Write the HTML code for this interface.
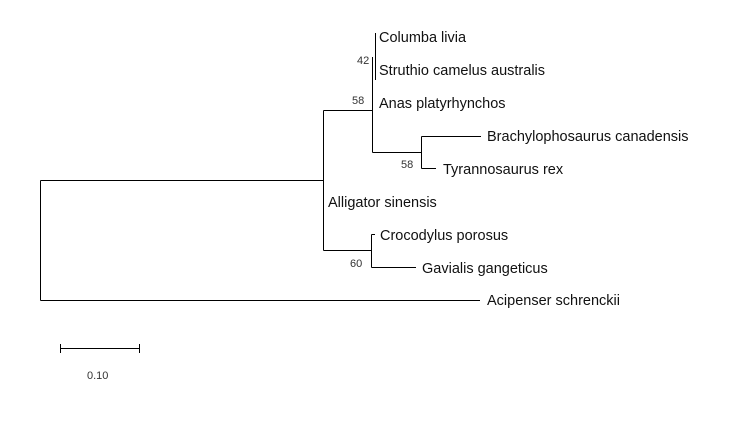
<!DOCTYPE html>
<html><head><meta charset="utf-8"><style>
html,body{margin:0;padding:0;background:#fff;}
svg{display:block}
.t{font-family:"Liberation Sans","DejaVu Sans",sans-serif;font-size:14.5px;fill:#111}
.n{font-family:"Liberation Sans","DejaVu Sans",sans-serif;font-size:11px;fill:#333}
</style></head><body>
<svg width="736" height="432" viewBox="0 0 736 432" xmlns="http://www.w3.org/2000/svg">
<g stroke="#000" stroke-width="1" fill="none" shape-rendering="crispEdges">
<path d="M40.5 180.5V300.5"/>
<path d="M40.5 180.5H323.5"/>
<path d="M40.5 300.5H480"/>
<path d="M323.5 110.5V250.5"/>
<path d="M323.5 110.5H372.5"/>
<path d="M323.5 250.5H371.5"/>
<path d="M372.5 57V152.5"/>
<path d="M375.5 33V80"/>
<path d="M372.5 152.5H421.5"/>
<path d="M421.5 136.5V168.5"/>
<path d="M421.5 136.5H481"/>
<path d="M421.5 168.5H436"/>
<path d="M371.5 234.5V267.5"/>
<path d="M371.5 234.5H375"/>
<path d="M371.5 267.5H416"/>
<path d="M60.5 348.5H139.5"/>
<path d="M60.5 344V353"/>
<path d="M139.5 344V353"/>
</g>
<text class="t" x="379" y="42">Columba livia</text>
<text class="t" x="379" y="75">Struthio camelus australis</text>
<text class="t" x="379" y="108">Anas platyrhynchos</text>
<text class="t" x="487" y="141">Brachylophosaurus canadensis</text>
<text class="t" x="443" y="174">Tyrannosaurus rex</text>
<text class="t" x="328" y="207">Alligator sinensis</text>
<text class="t" x="380" y="240">Crocodylus porosus</text>
<text class="t" x="422" y="273">Gavialis gangeticus</text>
<text class="t" x="487" y="305">Acipenser schrenckii</text>
<text class="n" x="357" y="64">42</text>
<text class="n" x="352" y="104">58</text>
<text class="n" x="401" y="168">58</text>
<text class="n" x="350" y="267">60</text>
<text class="n" x="87" y="379">0.10</text>
</svg>
</body></html>
